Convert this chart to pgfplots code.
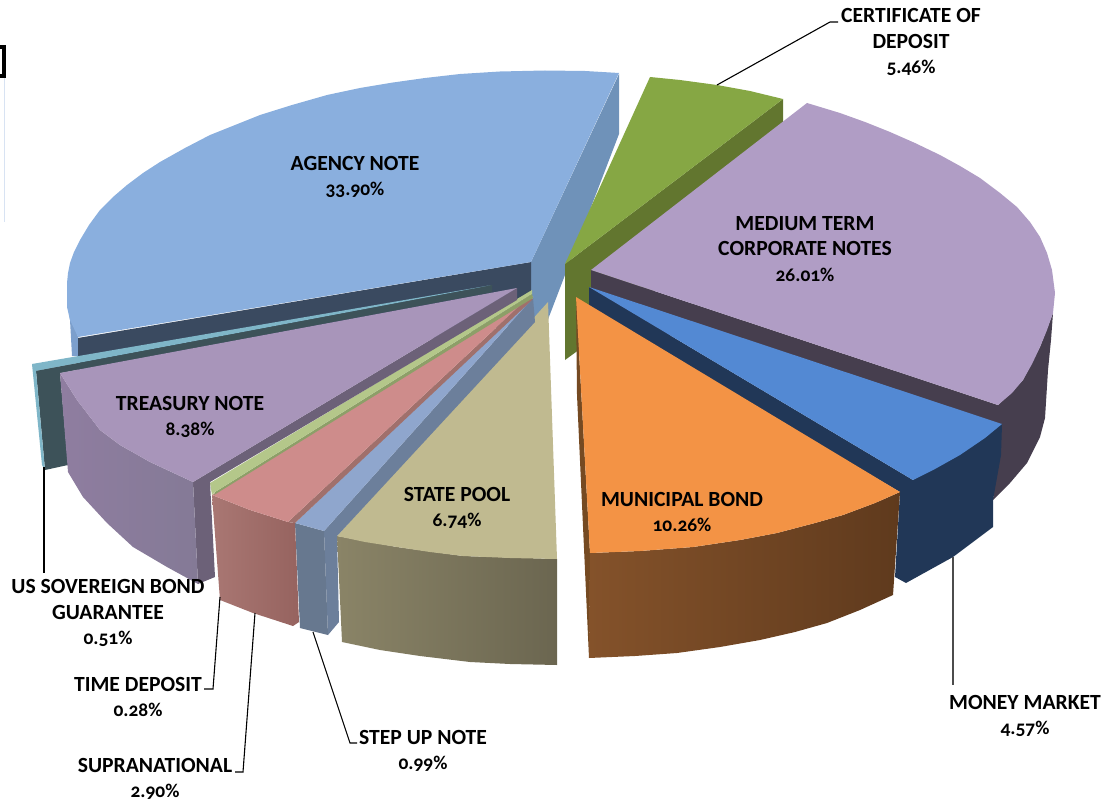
\documentclass[border=0pt]{standalone}
\usepackage{pgfplots}
\pgfplotsset{compat=1.18}
\usepackage{fontspec}
\setmainfont[Numbers=OldStyle]{Carlito}
\definecolor{agencyTop}{HTML}{8AAFDE}
\definecolor{agencyWall}{HTML}{6F92B9}
\definecolor{agencyCut}{HTML}{3A4A60}
\definecolor{agencySide}{HTML}{7C9FCC}
\definecolor{cdTop}{HTML}{86A744}
\definecolor{cdWall}{HTML}{62762F}
\definecolor{mtTop}{HTML}{B09DC5}
\definecolor{mtWall}{HTML}{463E4E}
\definecolor{mmTop}{HTML}{5389D3}
\definecolor{mmWall}{HTML}{213757}
\definecolor{muniTop}{HTML}{F39345}
\definecolor{muniEdge}{HTML}{754A22}
\definecolor{muniL}{HTML}{84522A}
\definecolor{muniR}{HTML}{5F3A1D}
\definecolor{poolTop}{HTML}{C0BA90}
\definecolor{poolL}{HTML}{8A8467}
\definecolor{poolR}{HTML}{6B6650}
\definecolor{stepTop}{HTML}{8FA6CD}
\definecolor{stepWall}{HTML}{6C7F9B}
\definecolor{stepL}{HTML}{67788F}
\definecolor{supraTop}{HTML}{CE8C8B}
\definecolor{supraWall}{HTML}{A0706C}
\definecolor{supraL}{HTML}{A97773}
\definecolor{supraR}{HTML}{96635F}
\definecolor{timeTop}{HTML}{B4C78A}
\definecolor{timeWall}{HTML}{8D9F68}
\definecolor{tnTop}{HTML}{A895BA}
\definecolor{tnWall}{HTML}{6C6178}
\definecolor{tnL}{HTML}{8F7DA0}
\definecolor{tnR}{HTML}{847A96}
\definecolor{usTop}{HTML}{7FB6C8}
\definecolor{usWall}{HTML}{3D5259}
\definecolor{frameLine}{HTML}{D8E3F3}
\newcommand{\slice}[2]{\addplot[draw=none,fill=#1,forget plot] coordinates {#2} --cycle;}
\newcommand{\sideshade}[3]{\addplot[draw=none,left color=#1,right color=#2,forget plot] coordinates {#3} --cycle;}
\newcommand{\leader}[2][black]{\addplot[#1,line width=1.1pt,forget plot] coordinates {#2};}
\newcommand{\lab}[2]{\node[align=center,font=\fontsize{21.7}{25.7}\selectfont\bfseries,text=black,inner sep=0pt] at (axis cs:#1) {#2};}
\newcommand{\pct}[1]{{\fontsize{19.5}{25.7}\selectfont #1\%}}
\begin{document}
\begin{tikzpicture}
\begin{axis}[
  width=1120bp,height=801bp,scale only axis,
  xmin=0,xmax=1120,ymin=0,ymax=801,y dir=reverse,
  hide axis,clip=true]
% stray text-box frame at the left edge
\slice{black}{(0,45)(5.5,45)(5.5,78.5)(0,78.5)}
\slice{white}{(0,49)(2,49)(2,74.5)(0,74.5)}
\addplot[color=frameLine,line width=0.8pt,forget plot] coordinates {(4.3,78)(4.3,222)};
% Agency note
\slice{agencySide}{(67,300)(70,320)(72,356)(82,356)(78,337)}
\slice{agencyWall}{(619,74)(619,134)(547,322)(531,322)(531,262)}
\slice{agencyCut}{(78,338)(531,262)(531,322)(78,398)}
\slice{agencyTop}{(619,73)(585,71)(545,70.5)(500,71.5)(460,74)(425,78)(393,82.5)(360,88)(327,95)(292,105)(260,115)(235,125)(210,135)(185,148)(160,162)(143,173)(127,185)(113,197)(100,210)(89,225)(80,240)(74,252)(70,263)(68,273)(67,283)(67,296)(67,307)(70,320)(78,337)(531,262)}
% Certificate of deposit
\slice{cdWall}{(565,264)(783,99)(783,195)(590,340)(576,352)(565,360)}
\slice{cdTop}{(565,264)(650,77)(680,80)(717,85)(750,91)(783,99)}
% Medium term corporate notes
\slice{mtWall}{(591,270)(998,405)(1023,380)(1040,347)(1053,313)(1051,340)(1048,370)(1045,418)(1040,437)(1027,463)(1010,483)(993,500)(998,440)(591,310)}
\slice{mtTop}{(591,270)(807,103)(840,113)(865,122)(890,132)(915,143)(940,155)(960,166)(980,178)(1000,193)(1017,207)(1030,222)(1040,237)(1047,253)(1052,270)(1055,293)(1053,313)(1047,330)(1040,347)(1032,364)(1023,380)(1012,393)(998,405)}
% Money market
\slice{mmWall}{(589,287)(913,480)(1002,424)(1001,455)(993,500)(993,527)(953,557)(906,583)(895,577)(900,492)(589,310)}
\slice{mmTop}{(589,287)(1002,424)(985,438)(960,455)(935,469)(913,480)}
% Municipal bond
\slice{muniEdge}{(576,297)(590,553)(589,658)(577,395)}
\sideshade{muniL}{muniR}{(590,553)(640,551)(693,547)(740,540)(777,533)(815,523)(843,515)(875,503)(900,492)(893,595)(860,610)(827,623)(795,632)(760,640)(720,647)(677,653)(635,656)(589,658)}
\slice{muniTop}{(576,297)(900,492)(875,503)(843,515)(815,523)(777,533)(740,540)(693,547)(640,551)(590,553)}
% State pool
\sideshade{poolL}{poolR}{(337,536)(397,547)(463,556)(557,559)(557,665)(510,664)(470,662)(420,656)(380,650)(342,642)}
\slice{poolTop}{(548,302)(557,559)(510,558)(463,556)(430,552)(397,547)(365,542)(337,536)}
% Step up note
\slice{stepWall}{(324,531)(533,298)(535,322)(337,536)(339,622)(328,635)}
\slice{stepL}{(295,523)(324,531)(328,635)(300,628)}
\slice{stepTop}{(295,523)(533,296)(533,298)(324,531)}
% Supranational
\sideshade{supraL}{supraR}{(212,495)(250,510)(288,522)(295,523)(299,622)(293,626)(253,613)(220,600)}
\slice{supraWall}{(288,522)(529,297)(533,299)(295,523)}
\slice{supraTop}{(529,297)(288,522)(250,510)(212,495)}
% Time deposit
\slice{timeWall}{(215,492)(532,294)(533,298)(214,495)}
\slice{timeTop}{(210,483)(532,290)(532,294)(215,492)(212,495)}
% US sovereign bond guarantee
\slice{usWall}{(36,371)(492,285)(492,292)(60,373)(68,465)(45,470)}
\slice{usTop}{(32,364)(492,285)(36,371)(45,470)(42,465)}
\slice{usWall}{(36,371)(480,288)(492,285)(492,292)(60,373)}
% Treasury note
\slice{tnWall}{(193,482)(517,288)(517,300)(210,482)(215,577)(198,584)}
\sideshade{tnL}{tnR}{(60,373)(77,400)(100,430)(120,445)(150,462)(193,482)(198,584)(167,567)(133,547)(107,523)(83,497)(68,472)}
\slice{tnTop}{(60,373)(517,288)(193,482)(150,462)(120,445)(100,430)(77,400)}
% Leader lines
\leader{(717,85)(830,22)(838,22)}
\leader{(44,467)(44,573)}
\leader{(220,597)(213,689)(204,689)}
\leader{(255,613)(243,772)(235,772)}
\leader{(313,632)(350,743)(357,743)}
\leader[black!70]{(953,557)(953,685)}
% Labels
\lab{911,42}{CERTIFICATE OF\\DEPOSIT\\\pct{5.46}}
\lab{355,177}{AGENCY NOTE\\\pct{33.90}}
\lab{805,249}{MEDIUM TERM\\CORPORATE NOTES\\\pct{26.01}}
\lab{190,417}{TREASURY NOTE\\\pct{8.38}}
\lab{457,508}{STATE POOL\\\pct{6.74}}
\lab{682,512}{MUNICIPAL BOND\\\pct{10.26}}
\lab{1025,716}{MONEY MARKET\\\pct{4.57}}
\lab{108,613}{US SOVEREIGN BOND\\GUARANTEE\\\pct{0.51}}
\lab{138,697}{TIME DEPOSIT\\\pct{0.28}}
\lab{155,779}{SUPRANATIONAL\\\pct{2.90}}
\lab{423,751}{STEP UP NOTE\\\pct{0.99}}
\end{axis}
\pgfresetboundingbox
\path[use as bounding box] (current axis.south west) rectangle (current axis.north east);
\end{tikzpicture}
\end{document}
